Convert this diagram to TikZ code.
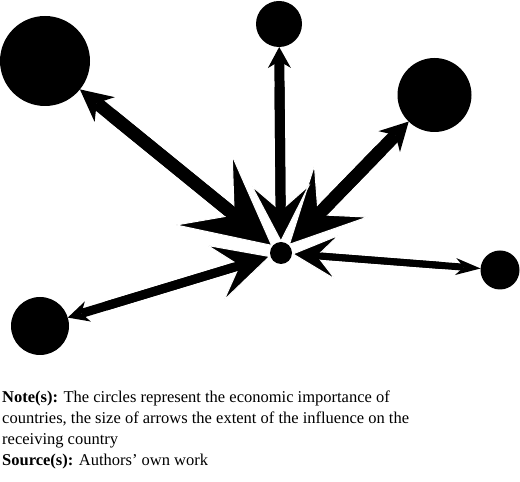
\documentclass[tikz,border=0pt]{standalone}
\usepackage{fontspec}
\setmainfont{Liberation Serif}
\usepackage{tikz}
\usetikzlibrary{
        arrows.meta,
        backgrounds
    }
\tikzset{dot/.style={circle,fill=black,draw=none,inner sep=0pt,outer sep=0pt}}
\tikzset{link/.style n args={6}{line width=#1,
    arrows={Stealth[length=#5,width=#6,line width=0pt]-Stealth[length=#2,width=#3,inset=#4,line width=1pt,color=white,fill=black]}}}
\tikzset{stalk/.style 2 args={line width=#1,shorten <=#2,shorten >=40pt}}

\begin{document}
\begin{tikzpicture}[x=1pt,y=1pt]
            \useasboundingbox (0,0) rectangle (520,482);
            \node[dot,minimum size=22pt] (0) at (281,229)   {};
            \node[dot,minimum size=90pt] (1) at (45,421)    {};
            \node[dot,minimum size=46pt] (2) at (279,458)   {};
            \node[dot,minimum size=74pt] (3) at (434.5,387) {};
            \node[dot,minimum size=58pt] (4) at (40,156)    {};
            \node[dot,minimum size=39pt] (5) at (500,212)   {};
            \begin{scope}[on background layer]
            \path
                (1) edge[link={13pt}{90pt}{92pt}{40pt}{32pt}{32pt}] (0)
                (0) edge[stalk={13pt}{47pt}] (1)
                (3) edge[link={13pt}{77pt}{77pt}{34pt}{28pt}{30pt}] (0)
                (0) edge[stalk={13pt}{40pt}] (3)
                (2) edge[link={10pt}{58pt}{60pt}{26pt}{21pt}{23pt}] (0)
                (0) edge[stalk={10pt}{29pt}] (2)
                (4) edge[link={9pt}{59pt}{60pt}{26pt}{21pt}{21pt}] (0)
                (0) edge[stalk={9pt}{30pt}] (4)
                (5) edge[link={7pt}{47pt}{47pt}{21pt}{25pt}{17pt}] (0)
                (0) edge[stalk={7pt}{23pt}] (5);
            \end{scope}
            \node[anchor=north west,inner sep=0pt,align=left,
                  font=\fontsize{16.5}{21}\selectfont] (note) at (2,91)
                {\textbf{Note(s):} The circles represent the economic importance of\\
                 countries, the size of arrows the extent of the influence on the\\
                 receiving country\\
                 \textbf{Source(s):} Authors’ own work};
        \end{tikzpicture}
\end{document}
